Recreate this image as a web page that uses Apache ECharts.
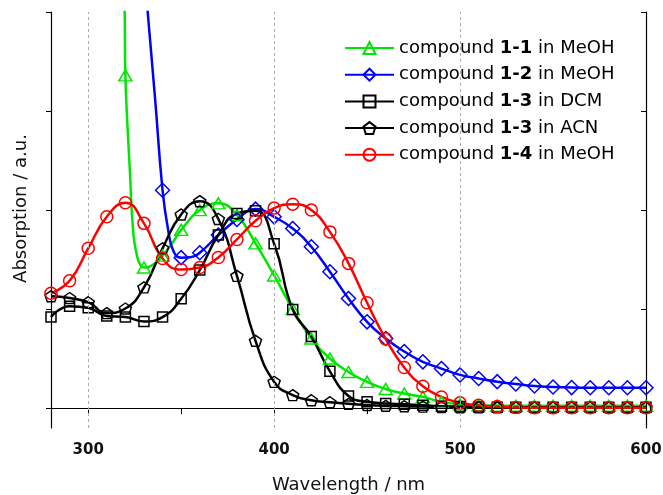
<!DOCTYPE html>
<html>
<head>
<meta charset="utf-8">
<script src="https://cdn.jsdelivr.net/npm/echarts@6/dist/echarts.min.js"></script>
<style>
  html, body { margin: 0; padding: 0; background: #fff; }
  #main { width: 663px; height: 495px; }
</style>
</head>
<body>
<div id="main"></div>
<script>
// legend names
var compoundIds = ['1-1', '1-2', '1-3', '1-3', '1-4'];
var solvents = ['MeOH', 'MeOH', 'DCM', 'ACN', 'MeOH'];

// compound 1-1 in MeOH
var wl11 = [317, 319.5, 320, 321, 322.3, 324.3, 326.5, 328, 330, 335, 340, 345, 350, 360, 370, 380, 390, 400, 410, 420, 430, 440, 450, 460, 470, 480, 490, 500, 510, 520, 530, 540, 550, 560, 570, 580, 590, 600];
var abs11 = [2.6, 2.05, 1.68, 1.45, 1.22, 0.88, 0.76, 0.725, 0.71, 0.725, 0.77, 0.83, 0.9, 1.0, 1.034, 0.975, 0.832, 0.67, 0.5, 0.352, 0.251, 0.183, 0.133, 0.097, 0.074, 0.057, 0.032, 0.02, 0.015, 0.013, 0.012, 0.012, 0.012, 0.012, 0.012, 0.012, 0.012, 0.012];

// compound 1-2 in MeOH
var wl12 = [328, 332, 336, 340, 343, 346, 350, 355, 360, 370, 380, 390, 400, 410, 420, 430, 440, 450, 460, 470, 480, 490, 500, 510, 520, 530, 540, 550, 560, 570, 580, 590, 600];
var abs12 = [2.45, 2.0, 1.56, 1.1, 0.9, 0.79, 0.76, 0.762, 0.785, 0.874, 0.953, 1.005, 0.966, 0.907, 0.815, 0.689, 0.554, 0.436, 0.352, 0.286, 0.234, 0.2, 0.168, 0.15, 0.134, 0.122, 0.112, 0.107, 0.104, 0.103, 0.103, 0.103, 0.103];

// compound 1-3 in DCM / ACN, compound 1-4 in MeOH (every 10 nm)
var wl10 = [280, 290, 300, 310, 320, 330, 340, 350, 360, 370, 380, 390, 400, 410, 420, 430, 440, 450, 460, 470, 480, 490, 500, 510, 520, 530, 540, 550, 560, 570, 580, 590, 600];
var abs13dcm = [0.46, 0.515, 0.507, 0.465, 0.46, 0.438, 0.46, 0.552, 0.697, 0.874, 0.983, 0.997, 0.83, 0.498, 0.362, 0.186, 0.062, 0.032, 0.024, 0.02, 0.015, 0.01, 0.008, 0.006, 0.005, 0.005, 0.005, 0.005, 0.005, 0.005, 0.005, 0.005, 0.005];
var abs13acn = [0.565, 0.556, 0.535, 0.48, 0.503, 0.61, 0.807, 0.978, 1.045, 0.955, 0.668, 0.34, 0.133, 0.066, 0.04, 0.03, 0.022, 0.016, 0.012, 0.01, 0.008, 0.006, 0.005, 0.004, 0.004, 0.004, 0.004, 0.004, 0.004, 0.004, 0.004, 0.004, 0.004];
var abs14 = [0.58, 0.643, 0.807, 0.966, 1.037, 0.933, 0.756, 0.70, 0.71, 0.761, 0.852, 0.946, 1.01, 1.03, 1.0, 0.89, 0.731, 0.532, 0.35, 0.205, 0.111, 0.057, 0.027, 0.015, 0.008, 0.004, 0.002, 0.002, 0.002, 0.002, 0.002, 0.002, 0.002];

var xTicks = [300, 350, 400, 450, 500, 550, 600];
var xLabels = [300, 400, 500, 600];
var yTicks = [0, 0.5, 1, 1.5, 2];
var gridLines = [300, 400, 500];

var names = compoundIds.map(function (id, i) {
    return 'compound ' + id + ' in ' + solvents[i];
});

// markers only every 10 nm
function pts(wl, ab) {
    return wl.map(function (w, i) {
        if (w % 10 === 0) return [w, ab[i]];
        return { value: [w, ab[i]], symbol: 'none' };
    });
}

var pentagon = 'path://M50,0 L97.6,34.5 L79.4,90.5 L20.6,90.5 L2.4,34.5 Z';
var colors = ['#00e600', '#0000ff', '#000000', '#000000', '#ff0000'];
var symbols = ['triangle', 'diamond', 'rect', pentagon, 'circle'];
var sizes = [[13, 11], [14, 14], [10, 10], [12, 11], [12, 12]];
var dataSets = [pts(wl11, abs11), pts(wl12, abs12), pts(wl10, abs13dcm), pts(wl10, abs13acn), pts(wl10, abs14)];

var font = 'DejaVu Sans';

var series = names.map(function (name, i) {
    return {
        name: name,
        type: 'line',
        data: dataSets[i],
        smooth: 0.5,
        symbol: symbols[i],
        symbolSize: sizes[i],
        lineStyle: { color: colors[i], width: 2.5 },
        itemStyle: { color: 'transparent', borderColor: colors[i], borderWidth: 1.5 },
        z: 3
    };
});

// dashed vertical grid lines
series.push({
    type: 'line',
    data: [],
    z: 1,
    markLine: {
        silent: true,
        symbol: ['none', 'none'],
        label: { show: false },
        animation: false,
        lineStyle: { type: [3, 3], color: '#aaa', width: 1 },
        data: gridLines.map(function (v) { return { xAxis: v }; })
    }
});

var chart = echarts.init(document.getElementById('main'));
var option = {
    animation: false,
    backgroundColor: '#fff',
    grid: { left: 51, right: 17, top: 12, bottom: 67, containLabel: false, outerBoundsMode: 'none' },
    legend: {
        data: names,
        orient: 'vertical',
        left: 344,
        top: 39,
        padding: 0,
        itemWidth: 49,
        itemHeight: 15,
        itemGap: 8.7,
        formatter: function (n) {
            return n.replace(/(\d-\d)/, '{b|$1}');
        },
        textStyle: {
            fontSize: 18,
            fontFamily: font,
            color: '#000',
            rich: { b: { fontSize: 18, fontFamily: font, fontWeight: 'bold', color: '#000' } }
        }
    },
    xAxis: [{
        type: 'value',
        min: 280,
        max: 600,
        position: 'bottom',
        name: 'Wavelength / nm',
        nameLocation: 'middle',
        nameGap: 48,
        nameTextStyle: { fontSize: 18, fontFamily: font, color: '#111' },
        axisLine: { lineStyle: { color: '#000', width: 1.2 } },
        axisTick: { inside: false, length: 5, customValues: xTicks, lineStyle: { color: '#000' } },
        axisLabel: { customValues: xLabels, margin: 15, fontSize: 15, fontWeight: 'bold', fontFamily: font, color: '#111' },
        splitLine: { show: false }
    }, {
        type: 'value',
        min: 280,
        max: 600,
        position: 'top',
        axisLine: { lineStyle: { color: '#000', width: 1.2 } },
        axisTick: { inside: true, length: 6, customValues: xTicks, lineStyle: { color: '#000' } },
        axisLabel: { show: false },
        splitLine: { show: false }
    }],
    yAxis: [{
        type: 'value',
        min: -0.1,
        max: 2.0,
        position: 'left',
        name: 'Absorption / a.u.',
        nameLocation: 'middle',
        nameGap: 21,
        nameTextStyle: { fontSize: 18, fontFamily: font, color: '#111', padding: [0, 0, 0, 23] },
        axisLine: { show: true, lineStyle: { color: '#000', width: 1.2 } },
        axisTick: { show: true, inside: false, length: 5, customValues: yTicks, lineStyle: { color: '#000' } },
        axisLabel: { show: false },
        splitLine: { show: false }
    }, {
        type: 'value',
        min: -0.1,
        max: 2.0,
        position: 'right',
        axisLine: { show: true, lineStyle: { color: '#000', width: 1.2 } },
        axisTick: { show: true, inside: true, length: 5, customValues: yTicks, lineStyle: { color: '#000' } },
        axisLabel: { show: false },
        splitLine: { show: false }
    }],
    series: series
};
chart.setOption(option);
</script>
</body>
</html>
